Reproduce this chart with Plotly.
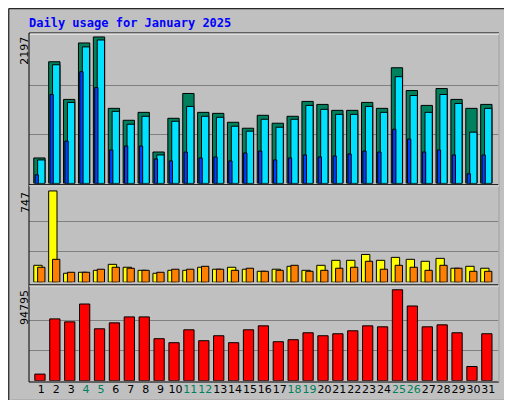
import plotly.graph_objects as go

days = list(range(1, 32))
weekend = [4, 5, 11, 12, 18, 19, 25, 26]
hits = [382,1825,1260,2107,2197,1126,947,1066,471,977,1349,1066,1051,917,828,1022,903,1007,1230,1185,1096,1096,1215,1126,1735,1393,1170,1423,1260,1126,1185]
pages = [352,1780,1215,2048,2152,1081,888,1007,427,932,1155,1007,992,858,784,962,843,962,1170,1111,1036,1036,1155,1066,1601,1319,1066,1334,1200,769,1126]
files = [129,1334,635,1676,1438,501,561,561,367,338,471,382,397,338,457,486,352,382,427,397,412,442,486,471,813,665,471,501,427,144,427]
visits = [138,747,73,81,97,146,122,97,73,97,97,122,106,122,106,89,106,130,97,138,179,179,227,179,203,187,171,195,114,130,114]
sites = [122,187,81,81,106,122,114,97,81,106,106,130,106,97,114,89,97,138,89,97,114,122,171,106,138,122,97,138,114,89,89]
kbytes = [6894,64460,61360,79970,54120,60320,66530,66530,43780,39640,53080,41710,46880,39640,53080,57220,40670,42740,49980,46880,48950,52050,57220,56190,94795,77900,56190,58250,49980,14820,48950]

L, R, T, B = 20.7, 490.7, 25, 377
def xp(px): return (px - L) / (R - L)
def yp(py): return (B - py) / (B - T)

fig = go.Figure()
ln = dict(color="black", width=1)
def bar(y, color, off, w, ax):
    fig.add_trace(go.Bar(x=days, y=y, offset=off, width=w, marker=dict(color=color, line=ln),
                         xaxis="x", yaxis=ax, showlegend=False, hoverinfo="skip"))

bar(hits, "#00805c", -0.51, 0.76, "y")
bar(pages, "#00e0ff", -0.25, 0.49, "y")
bar(files, "#0040ff", -0.42, 0.22, "y")
bar(visits, "#ffff00", -0.51, 0.56, "y2")
bar(sites, "#ff8000", -0.25, 0.49, "y2")
bar(kbytes, "#ff0000", -0.44, 0.69, "y3")

def yax(top_px, bot_px, mx, maxpx):
    rng = mx * (bot_px - top_px) / (bot_px - maxpx)
    return dict(domain=[yp(bot_px), yp(top_px)], range=[0, rng], tickvals=[mx/3, 2*mx/3],
                showticklabels=False, showgrid=True, gridcolor="#808080", gridwidth=1,
                zeroline=False, fixedrange=True)

ticktext = [f'<span style="color:#00805c">{d}</span>' if d in weekend else str(d) for d in days]
fig.update_layout(
    width=512, height=400, margin=dict(l=L, r=512-R, t=T, b=400-B),
    paper_bgcolor="#c0c0c0", plot_bgcolor="#c0c0c0", barmode="overlay",
    font=dict(family="DejaVu Sans", size=11, color="black"),
    xaxis=dict(range=[0.17, 31.72], tickvals=days, ticktext=ticktext, showgrid=False, anchor="y3",
               zeroline=False, ticks="", tickfont=dict(size=11), tickangle=0, fixedrange=True),
    yaxis=yax(25, 176.7, max(hits), 29),
    yaxis2=yax(180, 276.3, max(visits), 184.3),
    yaxis3=yax(281, 375.7, max(kbytes), 284),
)

shapes = []
shapes.append(dict(type="rect", xref="paper", yref="paper", x0=xp(0.5), x1=xp(511.5), y0=yp(399.5), y1=yp(0.5),
                   line=dict(color="black", width=1)))
shapes.append(dict(type="line", xref="paper", yref="paper", x0=xp(509), x1=xp(509), y0=yp(396), y1=yp(3),
                   line=dict(color="#808080", width=2)))
shapes.append(dict(type="line", xref="paper", yref="paper", x0=xp(3), x1=xp(509), y0=yp(396), y1=yp(396),
                   line=dict(color="#808080", width=2)))
shapes.append(dict(type="rect", xref="paper", yref="paper", x0=0, x1=1, y0=0, y1=1,
                   line=dict(color="black", width=1)))
for py in (179, 280):
    shapes.append(dict(type="line", xref="paper", yref="paper", x0=0, x1=1, y0=yp(py), y1=yp(py),
                       line=dict(color="white", width=1)))
    shapes.append(dict(type="line", xref="paper", yref="paper", x0=0, x1=1, y0=yp(py-1), y1=yp(py-1),
                       line=dict(color="black", width=1)))
shapes.append(dict(type="line", xref="paper", yref="paper", x0=xp(L+1), x1=1, y0=yp(T+1), y1=yp(T+1),
                   line=dict(color="white", width=1)))
shapes.append(dict(type="line", xref="paper", yref="paper", x0=1, x1=1, y0=0, y1=1,
                   line=dict(color="white", width=1)))
fig.update_layout(shapes=shapes)

mono = "DejaVu Sans Mono"
ann = [
    dict(text="<b>Daily usage for January 2025</b>", x=xp(19), y=yp(15), xanchor="left", yanchor="middle",
         font=dict(family=mono, size=12, color="#0000ff")),
    dict(text="2197", x=xp(8), y=yp(27), textangle=-90, xanchor="left", yanchor="top", font=dict(size=11)),
    dict(text="747", x=xp(8), y=yp(183), textangle=-90, xanchor="left", yanchor="top", font=dict(size=11)),
    dict(text="94795", x=xp(8), y=yp(282), textangle=-90, xanchor="left", yanchor="top", font=dict(size=11)),
    dict(text='<span style="color:#00e0ff">Pages</span> / <span style="color:#0040ff">Files</span> / <span style="color:#00805c">Hits</span>',
         x=xp(493), y=yp(27), textangle=-90, xanchor="left", yanchor="top", font=dict(family=mono, size=11)),
    dict(text='<span style="color:#ff8000">Sites</span> / <span style="color:#ffff00">Visits</span>',
         x=xp(493), y=yp(183), textangle=-90, xanchor="left", yanchor="top", font=dict(family=mono, size=11)),
    dict(text='<span style="color:#ff0000">KBytes</span>',
         x=xp(493), y=yp(376), textangle=-90, xanchor="left", yanchor="bottom", font=dict(family=mono, size=11)),
]
for a in ann:
    a.update(xref="paper", yref="paper", showarrow=False)
fig.update_layout(annotations=ann)

fig.write_html("out.html")
